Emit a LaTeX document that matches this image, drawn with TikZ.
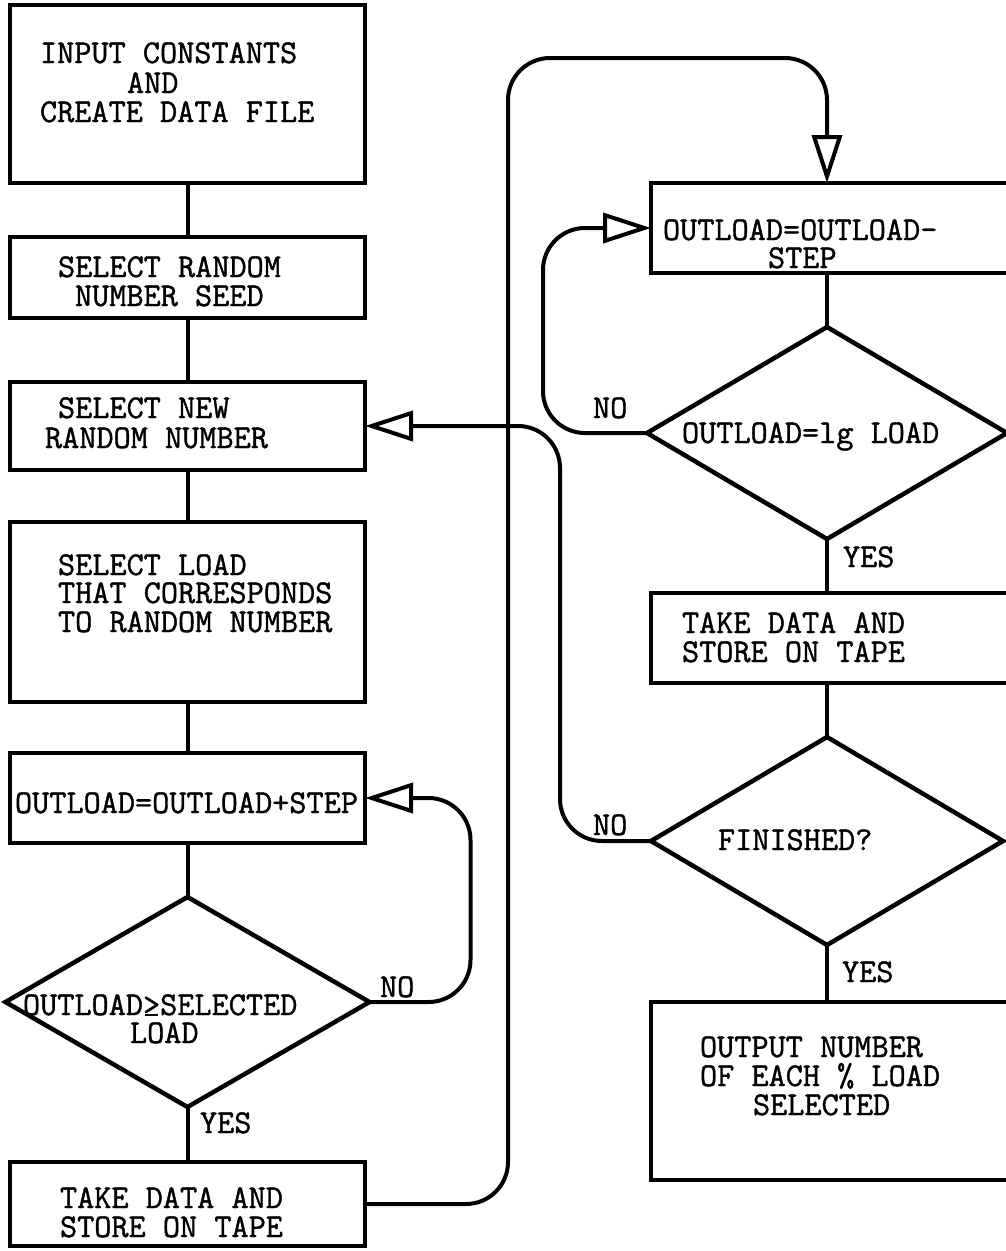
\documentclass[tikz,border=0pt]{standalone}
\usepackage{fontspec}
\newfontfamily\tw{Latin Modern Mono}[FakeBold=1.2]
\usetikzlibrary{arrows.meta,shapes.geometric}
\begin{document}
\begin{tikzpicture}[x=1pt,y=-1pt,
  box/.style={draw, rectangle, line width=4.5pt, inner sep=0pt, outer sep=0pt},
  dia/.style={draw, diamond, line width=4.5pt, inner sep=0pt, outer sep=0pt},
  txt/.style={inner sep=0pt, outer sep=0pt, anchor=base west, font=\tw\fontsize{33.3}{33}\selectfont},
  con/.style={line width=4pt},
  arr/.style={line width=4pt, -{Triangle[open,length=48pt,width=30pt]}, rounded corners=42pt}]
\useasboundingbox (0,0) rectangle (1006,1251);
\fill[white] (0,0) rectangle (1006,1251);
\clip (0,0) rectangle (1006,1251);

% ---- left column ----
\node[box, minimum width=355pt, minimum height=178pt] (b1) at (187.5,94) {};
\node[box, minimum width=355pt, minimum height=81pt] (b2) at (187.5,277.5) {};
\node[box, minimum width=355pt, minimum height=88pt] (b3) at (187.5,426) {};
\node[box, minimum width=355pt, minimum height=180pt] (b4) at (187.5,612) {};
\node[box, minimum width=355pt, minimum height=90pt] (b5) at (187.5,798) {};
\node[dia, minimum width=364pt, minimum height=210pt] (d1) at (187.5,1002) {};
\node[box, minimum width=355pt, minimum height=84pt] (b6) at (187.5,1204) {};

% ---- right column ----
\node[box, minimum width=380pt, minimum height=90pt] (b7) at (841,228) {};
\node[dia, minimum width=360pt, minimum height=212pt] (d2) at (827,433) {};
\node[box, minimum width=380pt, minimum height=90pt] (b8) at (841,638) {};
\node[dia, minimum width=352pt, minimum height=208pt] (d3) at (827,841) {};
\node[box, minimum width=380pt, minimum height=178pt] (b9) at (841,1091) {};

% ---- texts ----
\node[txt] (t1) at (40,63) {INPUT CONSTANTS};
\node[txt] (t2) at (127,93) {AND};
\node[txt] (t3) at (40,122) {CREATE DATA FILE};
\node[txt] (t4) at (58,277) {SELECT RANDOM};
\node[txt] (t5) at (75,306) {NUMBER SEED};
\node[txt] (t6) at (58,418) {SELECT NEW};
\node[txt] (t7) at (45,448) {RANDOM NUMBER};
\node[txt] (t8) at (58,575) {SELECT LOAD};
\node[txt] (t9) at (58,603) {THAT CORRESPONDS};
\node[txt] (t10) at (58,632) {TO RANDOM NUMBER};
\node[txt] (t11) at (15,813) {OUTLOAD=OUTLOAD+STEP};
\node[txt] (t12) at (23,1015) {OUTLOAD\rlap{\hspace{2pt}\rule[-1pt]{13pt}{2.5pt}}>SELECTED};
\node[txt] (t13) at (130,1043) {LOAD};
\node[txt] (t14) at (60,1208) {TAKE DATA AND};
\node[txt] (t15) at (60,1237) {STORE ON TAPE};
\node[txt] (t16) at (663,240) {OUTLOAD=OUTLOAD-};
\node[txt] (t17) at (768,268) {STEP};
\node[txt] (t18) at (682,443) {OUTLOAD=lg LOAD};
\node[txt] (t19) at (682,633) {TAKE DATA AND};
\node[txt] (t20) at (682,662) {STORE ON TAPE};
\node[txt] (t21) at (718,850) {FINISHED?};
\node[txt] (t22) at (700,1057) {OUTPUT NUMBER};
\node[txt] (t23) at (700,1086) {OF EACH \% LOAD};
\node[txt] (t24) at (753,1115) {SELECTED};
% labels
\node[txt] (n1) at (380,997) {NO};
\node[txt] (y1) at (200,1133) {YES};
\node[txt] (n2) at (593,418) {NO};
\node[txt] (y2) at (843,567) {YES};
\node[txt] (n3) at (593,835) {NO};
\node[txt] (y3) at (842,982) {YES};

% ---- connectors left ----
\draw[con] (b1.south) -- (b2.north);
\draw[con] (b2.south) -- (b3.north);
\draw[con] (b3.south) -- (b4.north);
\draw[con] (b4.south) -- (b5.north);
\draw[con] (b5.south) -- (d1.north);
\draw[con] (d1.south) -- (b6.north);
\draw[arr] (d1.east) -- ++(101,0) |- (b5.east);

% ---- connectors right ----
\draw[con] (d2.north |- b7.south) -- (d2.north);
\draw[con] (d2.south) -- (d2.south |- b8.north);
\draw[con] (d3.north |- b8.south) -- (d3.north);
\draw[con] (d3.south) -- (d3.south |- b9.north);
\draw[arr] (d2.west) -- ++(-104,0) |- (b7.west);

% ---- long loops ----
\draw[arr] (b6.east) -| (508,58) -| (b7.north -| d2.north);
\draw[arr] (d3.west) -- ++(-91,0) |- (b3.east);
\end{tikzpicture}
\end{document}
